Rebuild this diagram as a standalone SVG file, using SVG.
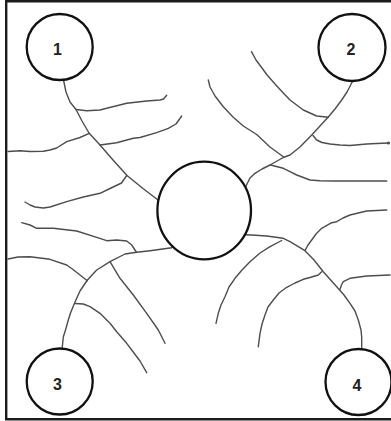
<svg xmlns="http://www.w3.org/2000/svg" width="391" height="421" viewBox="0 0 391 421">
<style>
.frame{fill:none;stroke:#1c1c1c;stroke-width:2.4}
.ln{fill:none;stroke:#4d4d4d;stroke-width:1.4;stroke-linejoin:round;stroke-linecap:round}
.node{fill:#fff;stroke:#111;stroke-width:2.3}
.lbl{font-family:"Liberation Sans",Arial,sans-serif;font-size:16px;font-weight:bold;fill:#222;text-anchor:middle}
</style>
<rect x="0" y="0" width="391" height="421" fill="#fff"/>
<path class="frame" d="M391,1.2 H6.2 V419.3 H391"/>
<g id="connectors">
<path class="ln" d="M63.5,80 L66,92 L70,102 L76,109.5 L82,121 L89,133 L100,145 L113,160 L127,175.5 L143,188.5 L160,201.5"/>
<path class="ln" d="M76,109.5 L86.7,110.7 L100,110 L106.7,108.3 L126.7,103.3 L146.7,101 L160,100 L163.5,99 L166.7,95.3"/>
<path class="ln" d="M89.3,133.3 L80,137.5 L66.7,141.7 L56.7,148 L50,150 L43.3,151.2 L30,151.5 L20,150.8 L8,151.5"/>
<path class="ln" d="M100,145 L116.7,142.7 L133.3,138.3 L140,137.5 L156.7,132.7 L168.3,128.3 L176,124 L181.7,116"/>
<path class="ln" d="M126.7,175.5 L121.5,183 L110,188.5 L100,193.3 L83.3,197 L66.7,201.7 L50,207 L43.3,208 L35,207 L30,205 L25,202"/>
<path class="ln" d="M352.5,81.5 L347,92 L341.7,100 L335,109 L328.3,117 L320,126 L311.7,135 L300,147 L290,155 L283.3,157.5 L270,165 L262,169 L255,173.3 L250,178 L248,182 L244,190"/>
<path class="ln" d="M251.5,51.7 L256,60 L262,68 L266.7,74.5 L275,84 L283.3,93 L290,100 L303.3,110 L310,113 L316.7,116 L328.3,117.3"/>
<path class="ln" d="M208.3,80 L210,87 L215,96 L223.3,106.7 L233,117 L243.3,126 L256.7,134.5 L270,147 L283.3,156.7"/>
<path class="ln" d="M313,135.5 L316.7,140 L322,142.5 L330,144 L340,145 L350,145.5 L366.7,144 L376.7,143.5 L388.3,143"/>
<circle cx="388.5" cy="143" r="1.6" fill="#4d4d4d"/>
<path class="ln" d="M270.5,165 L283.3,168.3 L290,171.7 L296.7,175 L310,180 L320,180.8 L333.3,181 L360,181 L386.7,181"/>
<path class="ln" d="M174,244 L171.7,247.7 L150,250.7 L136.7,252.3 L125,254 L110,261.7 L96.7,270 L87,280.5 L80,291 L75,302 L70.5,313 L68.3,320 L65.5,330 L63.3,337 L62,350"/>
<path class="ln" d="M136.3,252 L131.7,245 L126.7,241 L116.7,240 L106.7,240.7 L96.7,237.3 L76.7,231 L53.3,228.3 L36.7,228.3 L30,225 L21.7,222.7"/>
<path class="ln" d="M87.3,280.7 L80,275 L73,269.5 L66.7,265 L50,259.3 L30,256.7 L18,257 L8,259"/>
<path class="ln" d="M110,261.7 L120,278.3 L133.3,295 L146.7,313.3 L158.3,330 L165,343.3"/>
<path class="ln" d="M75,303.5 L83.3,304 L90,306.7 L100,313.3 L110,323.3 L116.7,331.7 L126.7,343.3 L131.7,350 L140,361 L146.7,372.7"/>
<path class="ln" d="M244,234.8 L251.7,235 L266.7,236 L283.3,238.3 L290,241.7 L305,250.7 L314,260 L323.3,271.7 L336.7,286.7 L344,295 L350,303.3 L355,311 L358.3,320 L361,330 L361.7,337 L361.7,350"/>
<path class="ln" d="M305,250.7 L308,245 L311.7,240 L316,234 L321.7,228.3 L331.7,222.7 L336.7,221.7 L343,218 L350,215 L366.7,211 L386.7,210"/>
<path class="ln" d="M281.7,240.5 L270,246.7 L260,253 L250,261.7 L242,270 L235,278.3 L229,287 L225,296.7 L221,305 L218.3,313.3 L216,323.3"/>
<path class="ln" d="M321.7,271.7 L318.3,275 L310,277.5 L303.3,279.3 L295,283 L286.7,287.3 L279,293 L273.3,300 L268,307 L265,315 L262,324 L260,333.3 L258.3,346.7"/>
<path class="ln" d="M340,289.3 L341.5,285 L343.3,281.7 L350,278.3 L366.7,276 L390,275"/>
</g>
<g id="node-center">
<ellipse class="node" cx="204.2" cy="210.5" rx="46.8" ry="48.8"/>
</g>
<g id="node-1">
<circle class="node" cx="59.7" cy="47" r="33"/>
<text class="lbl" x="57.5" y="54.5">1</text>
</g>
<g id="node-2">
<circle class="node" cx="352" cy="47.5" r="33.5"/>
<text class="lbl" x="351" y="55">2</text>
</g>
<g id="node-3">
<circle class="node" cx="59.7" cy="381.5" r="33"/>
<text class="lbl" x="57.5" y="390">3</text>
</g>
<g id="node-4">
<circle class="node" cx="358.5" cy="382" r="33"/>
<text class="lbl" x="357" y="391">4</text>
</g>
</svg>
